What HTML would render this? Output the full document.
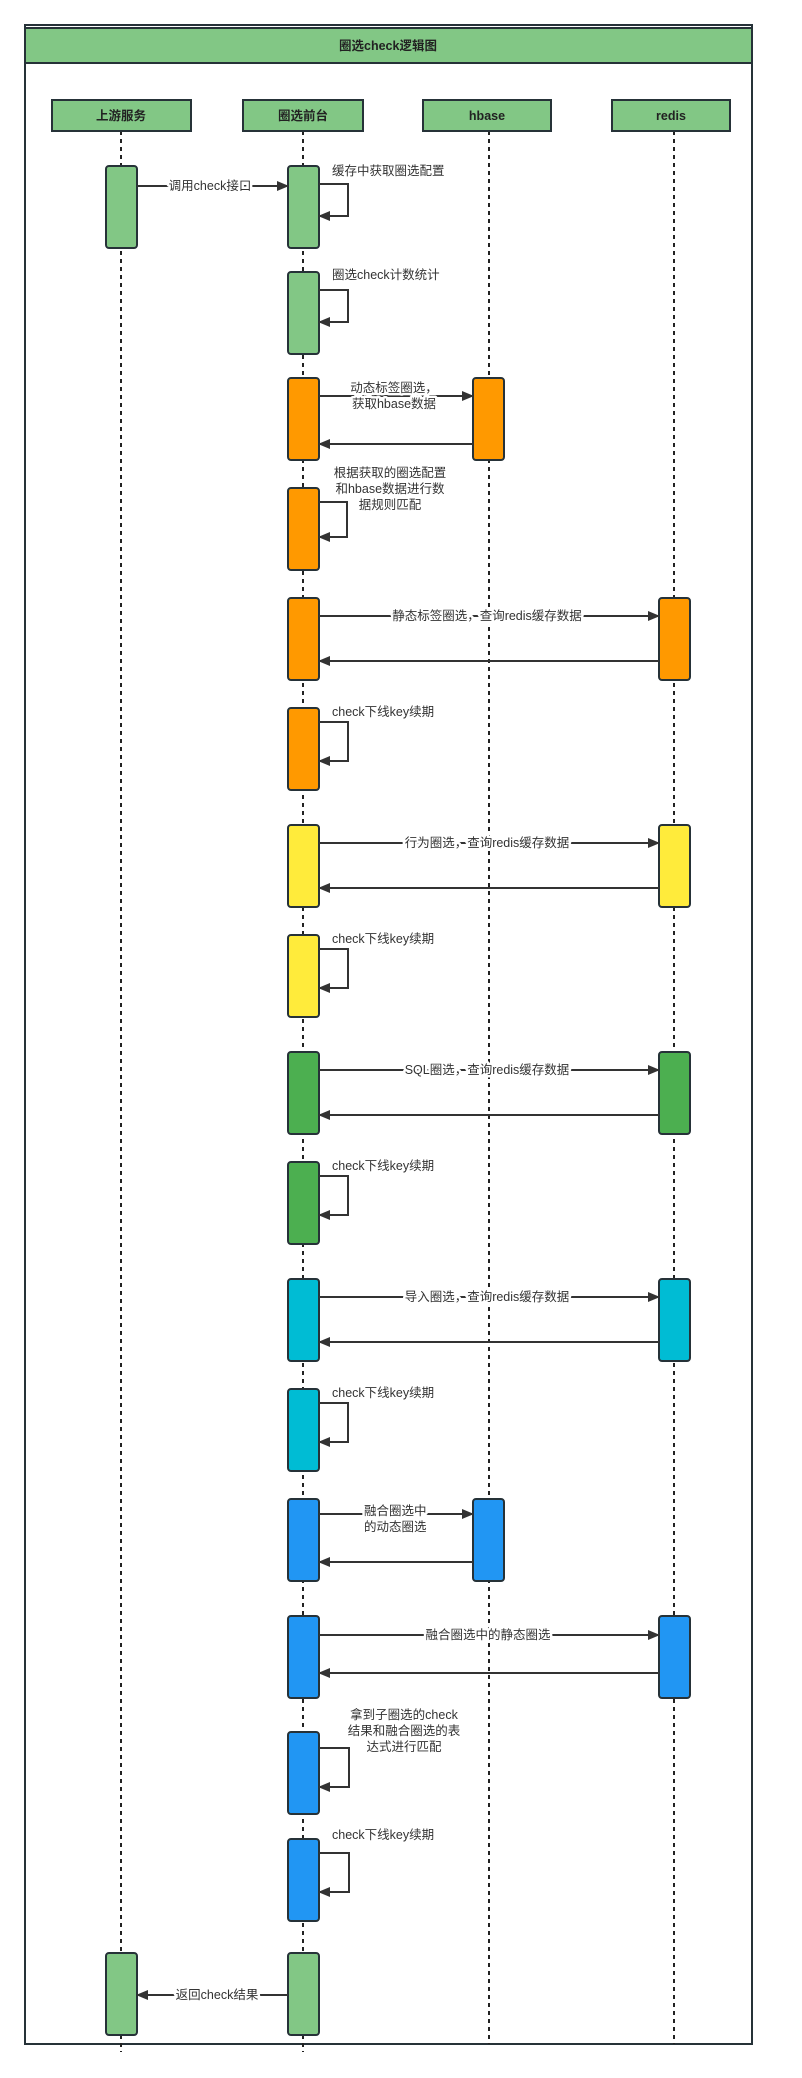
<!DOCTYPE html>
<html><head><meta charset="utf-8"><style>
html,body{margin:0;padding:0;background:#fff;}
svg{display:block;}
text{font-family:"Liberation Sans","Noto Sans CJK SC",sans-serif;font-size:12.5px;fill:#333;}
.hd{font-weight:bold;fill:#222;}
.lb{paint-order:stroke;stroke:#fff;stroke-width:5px;stroke-linejoin:round;}
.life{stroke:#222;stroke-width:2;stroke-dasharray:4 4;fill:none;}
.act{stroke:#263238;stroke-width:2;}
.ln{stroke:#333;stroke-width:2;fill:none;}
</style></head><body>
<svg width="802" height="2078" viewBox="0 0 802 2078" xmlns="http://www.w3.org/2000/svg">
<defs>
<marker id="ah" markerWidth="12" markerHeight="10" refX="11" refY="5" orient="auto" markerUnits="userSpaceOnUse">
<path d="M0,0 L12,5 L0,10 z" fill="#333"/></marker>
</defs>
<rect x="25" y="25" width="727" height="2019" fill="#fff" stroke="#263238" stroke-width="2"/>
<rect x="25" y="28" width="727" height="35" fill="#82c785" stroke="#263238" stroke-width="2"/>
<text class="hd" x="388" y="50" text-anchor="middle">圈选check逻辑图</text>
<line class="life" x1="121" y1="131" x2="121" y2="2052"/>
<line class="life" x1="303" y1="131" x2="303" y2="2052"/>
<line class="life" x1="489" y1="131" x2="489" y2="2044"/>
<line class="life" x1="674" y1="131" x2="674" y2="2044"/>
<g stroke="#263238" stroke-width="2" fill="#82c785">
<rect x="52" y="100" width="139" height="31"/>
<rect x="243" y="100" width="120" height="31"/>
<rect x="423" y="100" width="128" height="31"/>
<rect x="612" y="100" width="118" height="31"/>
</g>
<text class="hd" x="121" y="120" text-anchor="middle">上游服务</text>
<text class="hd" x="303" y="120" text-anchor="middle">圈选前台</text>
<text class="hd" x="487" y="120" text-anchor="middle">hbase</text>
<text class="hd" x="671" y="120" text-anchor="middle">redis</text>

<g class="act">
<rect x="106" y="166" width="31" height="82" rx="3" fill="#82c785"/>
<rect x="288" y="166" width="31" height="82" rx="3" fill="#82c785"/>
<rect x="288" y="272" width="31" height="82" rx="3" fill="#82c785"/>
<rect x="288" y="378" width="31" height="82" rx="3" fill="#ff9900"/>
<rect x="473" y="378" width="31" height="82" rx="3" fill="#ff9900"/>
<rect x="288" y="488" width="31" height="82" rx="3" fill="#ff9900"/>
<rect x="288" y="598" width="31" height="82" rx="3" fill="#ff9900"/>
<rect x="659" y="598" width="31" height="82" rx="3" fill="#ff9900"/>
<rect x="288" y="708" width="31" height="82" rx="3" fill="#ff9900"/>
<rect x="288" y="825" width="31" height="82" rx="3" fill="#ffeb3b"/>
<rect x="659" y="825" width="31" height="82" rx="3" fill="#ffeb3b"/>
<rect x="288" y="935" width="31" height="82" rx="3" fill="#ffeb3b"/>
<rect x="288" y="1052" width="31" height="82" rx="3" fill="#4caf50"/>
<rect x="659" y="1052" width="31" height="82" rx="3" fill="#4caf50"/>
<rect x="288" y="1162" width="31" height="82" rx="3" fill="#4caf50"/>
<rect x="288" y="1279" width="31" height="82" rx="3" fill="#00bcd4"/>
<rect x="659" y="1279" width="31" height="82" rx="3" fill="#00bcd4"/>
<rect x="288" y="1389" width="31" height="82" rx="3" fill="#00bcd4"/>
<rect x="288" y="1499" width="31" height="82" rx="3" fill="#2196f3"/>
<rect x="473" y="1499" width="31" height="82" rx="3" fill="#2196f3"/>
<rect x="288" y="1616" width="31" height="82" rx="3" fill="#2196f3"/>
<rect x="659" y="1616" width="31" height="82" rx="3" fill="#2196f3"/>
<rect x="288" y="1732" width="31" height="82" rx="3" fill="#2196f3"/>
<rect x="288" y="1839" width="31" height="82" rx="3" fill="#2196f3"/>
<rect x="106" y="1953" width="31" height="82" rx="3" fill="#82c785"/>
<rect x="288" y="1953" width="31" height="82" rx="3" fill="#82c785"/>
</g>

<g class="ln" marker-end="url(#ah)">
<line x1="137" y1="186" x2="288" y2="186"/>
<path d="M319,184 H348 V216 H319"/>
<path d="M319,290 H348 V322 H319"/>
<line x1="319" y1="396" x2="473" y2="396"/>
<line x1="473" y1="444" x2="319" y2="444"/>
<path d="M319,502 H347 V537 H319"/>
<line x1="319" y1="616" x2="659" y2="616"/>
<line x1="659" y1="661" x2="319" y2="661"/>
<path d="M319,722 H348 V761 H319"/>
<line x1="319" y1="843" x2="659" y2="843"/>
<line x1="659" y1="888" x2="319" y2="888"/>
<path d="M319,949 H348 V988 H319"/>
<line x1="319" y1="1070" x2="659" y2="1070"/>
<line x1="659" y1="1115" x2="319" y2="1115"/>
<path d="M319,1176 H348 V1215 H319"/>
<line x1="319" y1="1297" x2="659" y2="1297"/>
<line x1="659" y1="1342" x2="319" y2="1342"/>
<path d="M319,1403 H348 V1442 H319"/>
<line x1="319" y1="1514" x2="473" y2="1514"/>
<line x1="473" y1="1562" x2="319" y2="1562"/>
<line x1="319" y1="1635" x2="659" y2="1635"/>
<line x1="659" y1="1673" x2="319" y2="1673"/>
<path d="M319,1748 H349 V1787 H319"/>
<path d="M319,1853 H349 V1892 H319"/>
<line x1="288" y1="1995" x2="137" y2="1995"/>
</g>

<text class="lb" x="210" y="190" text-anchor="middle">调用check接口</text>
<text x="332" y="175">缓存中获取圈选配置</text>
<text x="332" y="279">圈选check计数统计</text>
<text class="lb" x="394" y="392" text-anchor="middle">动态标签圈选，</text>
<text class="lb" x="394" y="408" text-anchor="middle">获取hbase数据</text>
<text x="390" y="477" text-anchor="middle">根据获取的圈选配置</text>
<text x="390" y="493" text-anchor="middle">和hbase数据进行数</text>
<text x="390" y="509" text-anchor="middle">据规则匹配</text>
<text class="lb" x="487" y="620" text-anchor="middle">静态标签圈选，查询redis缓存数据</text>
<text x="332" y="716">check下线key续期</text>
<text class="lb" x="487" y="847" text-anchor="middle">行为圈选，查询redis缓存数据</text>
<text x="332" y="943">check下线key续期</text>
<text class="lb" x="487" y="1074" text-anchor="middle">SQL圈选，查询redis缓存数据</text>
<text x="332" y="1170">check下线key续期</text>
<text class="lb" x="487" y="1301" text-anchor="middle">导入圈选，查询redis缓存数据</text>
<text x="332" y="1397">check下线key续期</text>
<text class="lb" x="364" y="1515">融合圈选中</text>
<text class="lb" x="364" y="1531">的动态圈选</text>
<text class="lb" x="488" y="1639" text-anchor="middle">融合圈选中的静态圈选</text>
<text x="404" y="1719" text-anchor="middle">拿到子圈选的check</text>
<text x="404" y="1735" text-anchor="middle">结果和融合圈选的表</text>
<text x="404" y="1751" text-anchor="middle">达式进行匹配</text>
<text x="332" y="1839">check下线key续期</text>
<text class="lb" x="217" y="1999" text-anchor="middle">返回check结果</text>
</svg>
</body></html>
